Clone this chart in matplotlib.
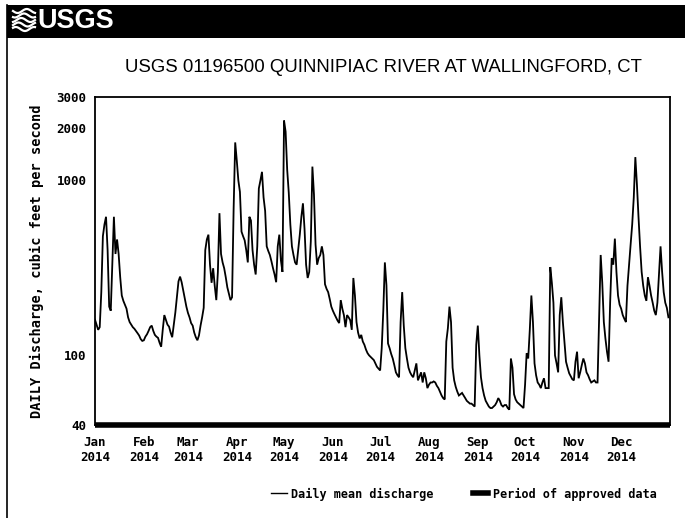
import numpy as np
import pandas as pd
import matplotlib
matplotlib.use("Agg")
import matplotlib.pyplot as plt
from matplotlib.lines import Line2D
from matplotlib.patches import Rectangle

# Daily mean discharge (cfs), USGS 01196500, calendar year 2014, by month
jan = [160, 150, 140, 145, 230, 480, 560, 620, 400, 190,
       180, 330, 620, 380, 460, 380, 280, 220, 205, 195,
       185, 165, 155, 150, 145, 142, 138, 134, 130, 124, 121]
feb = [122, 128, 132, 138, 145, 148, 138, 131, 128, 126,
       118, 112, 140, 170, 160, 150, 146, 135, 127, 150,
       176, 215, 265, 282, 262, 235, 210, 190]
mar = [175, 165, 153, 148, 135, 127, 122, 130, 148, 165,
       187, 400, 460, 490, 330, 260, 315, 250, 207, 300,
       650, 380, 340, 315, 280, 245, 225, 207, 215, 690, 1650]
apr = [1300, 1000, 860, 510, 480, 455, 400, 340, 620, 590,
       400, 330, 290, 420, 900, 1000, 1120, 800, 670, 420,
       395, 375, 345, 315, 290, 262, 420, 490, 350, 300]
may = [2200, 1900, 1150, 850, 560, 420, 375, 340, 330, 400,
       490, 620, 740, 530, 330, 277, 300, 450, 1200, 830,
       430, 330, 360, 375, 420, 375, 255, 240, 230, 210, 190]
jun = [180, 172, 165, 158, 153, 207, 185, 170, 145, 170,
       165, 159, 140, 277, 220, 155, 135, 125, 131, 120,
       115, 108, 103, 100, 98, 96, 94, 90, 86, 84]
jul = [82, 110, 180, 340, 252, 117, 110, 102, 96, 88,
       80, 77, 75, 155, 230, 148, 110, 96, 85, 80,
       77, 75, 82, 90, 72, 76, 80, 70, 80, 74, 65]
aug = [68, 70, 70, 71, 70, 67, 65, 62, 59, 57,
       56, 120, 143, 190, 155, 85, 72, 66, 62, 59,
       60, 61, 59, 57, 55, 54, 53, 53, 52, 51, 115]
sep = [148, 100, 75, 65, 59, 55, 53, 51, 50, 50,
       51, 52, 54, 57, 55, 52, 51, 52, 52, 50,
       49, 96, 85, 60, 56, 54, 53, 52, 51, 50]
oct_ = [68, 103, 96, 140, 220, 155, 90, 77, 70, 68,
        65, 70, 74, 65, 65, 65, 320, 260, 200, 100,
        90, 80, 170, 215, 155, 120, 92, 85, 79, 76, 73]
nov = [72, 92, 105, 74, 80, 88, 96, 90, 80, 77,
       73, 70, 71, 72, 70, 70, 160, 375, 260, 155,
       125, 105, 92, 200, 360, 330, 465, 300, 220, 195]
dec = [185, 170, 162, 155, 250, 330, 430, 560, 800, 1360,
       950, 620, 420, 300, 250, 220, 205, 280, 250, 220,
       200, 180, 170, 200, 290, 420, 300, 230, 200, 187, 165]

discharge = jan + feb + mar + apr + may + jun + jul + aug + sep + oct_ + nov + dec
dates = pd.date_range("2014-01-01", periods=len(discharge), freq="D")

approved_start = "2014-01-01"
approved_end = "2015-01-01"

y_ticks = [40, 100, 1000, 2000, 3000]
y_ticklabels = ["40", "100", "1000", "2000", "3000"]
month_labels = ["Jan\n2014", "Feb\n2014", "Mar\n2014", "Apr\n2014", "May\n2014",
                "Jun\n2014", "Jul\n2014", "Aug\n2014", "Sep\n2014", "Oct\n2014",
                "Nov\n2014", "Dec\n2014"]

title = "USGS 01196500 QUINNIPIAC RIVER AT WALLINGFORD, CT"
y_label = "DAILY Discharge, cubic feet per second"

mono = ["DejaVu Sans Mono", "DejaVu Sans"]
sans = ["Liberation Sans", "DejaVu Sans"]

W, H = 685, 518
fig = plt.figure(figsize=(W / 100, H / 100), dpi=100)
fig.patch.set_facecolor("white")

# header band with agency wordmark
fig.patches.append(Rectangle((7 / W, 1 - 38 / H), 1 - 7 / W, 33 / H,
                             transform=fig.transFigure, facecolor="black",
                             edgecolor="none", zorder=0))
t = np.linspace(0, 1, 30)
for k in range(5):
    xs = (13 + 22 * t) / W
    ys = 1 - (11 + 4.5 * k + 2.0 * np.sin(2 * np.pi * (t * 1.2 + 0.15 * k))) / H
    fig.add_artist(Line2D(xs, ys, color="white", lw=1.6, transform=fig.transFigure))
fig.text(37 / W, 1 - 21 / H, "USGS", color="white", fontsize=19.5, fontweight="bold",
         family=sans, ha="left", va="center")

# left border of the page
fig.add_artist(Line2D([7 / W, 7 / W], [0, 1 - 5 / H], color="black", lw=1.2,
                      transform=fig.transFigure))

fig.text(383 / W, 1 - 68 / H, title, fontsize=13.4, family=sans,
         ha="center", va="center")

ax = fig.add_axes([95 / W, 1 - 425 / H, (670 - 95) / W, (425 - 97) / H])
ax.plot(dates, discharge, color="black", lw=1.3, solid_joinstyle="miter")
ax.plot(pd.to_datetime([approved_start, approved_end]), [40, 40], color="black",
        lw=4, solid_capstyle="butt", clip_on=False)

ax.set_yscale("log")
ax.set_ylim(40, 3000)
ax.set_xlim(pd.Timestamp("2014-01-01"), pd.Timestamp("2015-01-01"))
ax.yaxis.set_major_locator(matplotlib.ticker.FixedLocator(y_ticks))
ax.yaxis.set_minor_locator(matplotlib.ticker.NullLocator())
ax.set_yticklabels(y_ticklabels)
month_starts = pd.date_range("2014-01-01", periods=12, freq="MS")
ax.set_xticks(month_starts)
ax.set_xticklabels(month_labels, linespacing=1.15)
ax.tick_params(length=0, labelsize=9)
ax.tick_params(axis="y", pad=6)
ax.tick_params(axis="x", pad=8)
for lab in ax.get_xticklabels() + ax.get_yticklabels():
    lab.set_family(mono)
    lab.set_fontweight("bold")
for s in ax.spines.values():
    s.set_linewidth(1.3)

ax.set_ylabel(y_label, family=mono, fontweight="bold", fontsize=9.8, labelpad=9)

handles = [Line2D([], [], color="black", lw=1.0),
           Line2D([], [], color="black", lw=4)]
fig.legend(handles, ["Daily mean discharge", "Period of approved data"],
           loc="center", bbox_to_anchor=(464 / W, 1 - 494 / H), ncol=2,
           frameon=False, handlelength=1.3, handletextpad=0.4, columnspacing=3.3,
           prop={"family": mono, "weight": "bold", "size": 8.5})

fig.savefig("out.png", dpi=100)
